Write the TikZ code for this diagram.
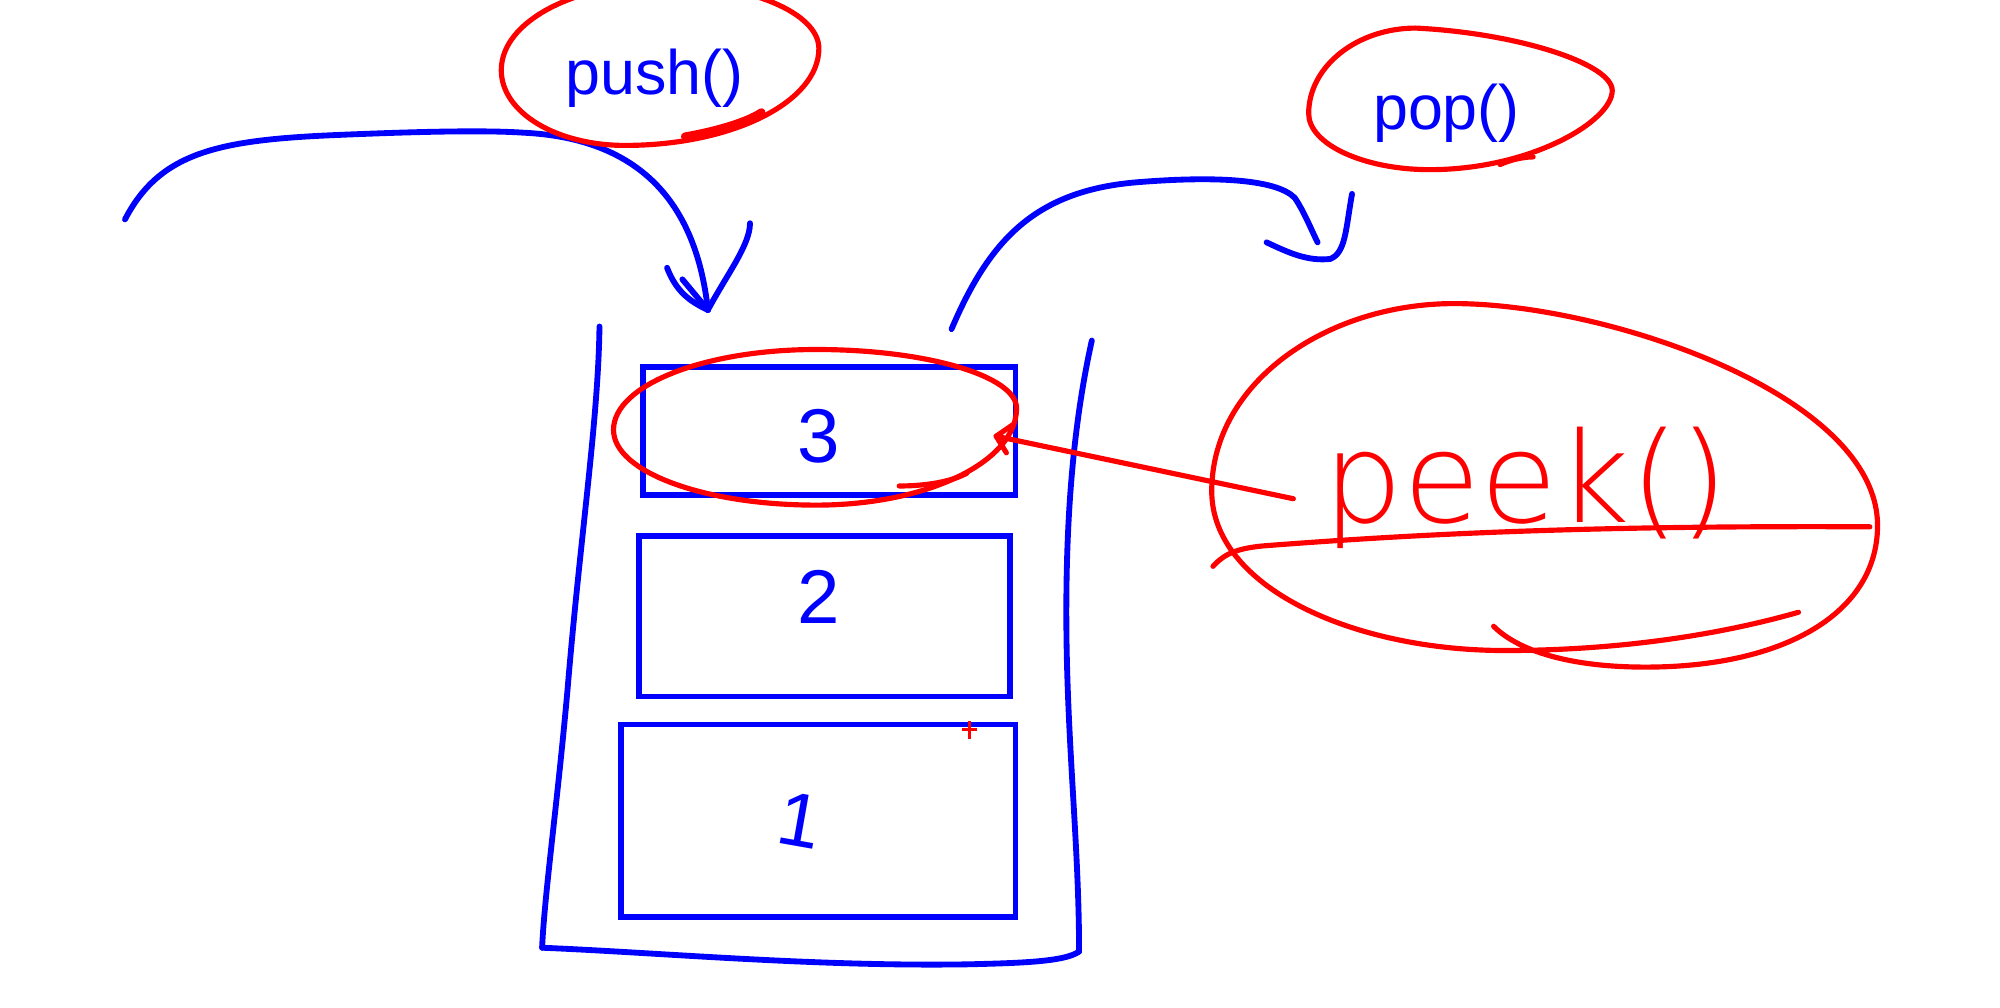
\documentclass[tikz,border=0pt]{standalone}
\usepackage{fontspec}
\setmainfont{Liberation Sans}
\newfontfamily\thinhand{DejaVu Sans ExtraLight}
\begin{document}
\begin{tikzpicture}[x=0.01cm,y=-0.01cm,
  bl/.style={draw=blue, line width=1.3pt, line cap=round, line join=round},
  rd/.style={draw=red, line width=1.15pt, line cap=round, line join=round},
  cellbox/.style={draw=blue, line width=1.3pt, inner sep=0pt},
  lbl/.style={text=blue, font=\fontsize{14}{16}\selectfont, inner sep=0pt},
  digit/.style={text=blue, font=\fontsize{17}{19}\selectfont, inner sep=0pt},
  peektext/.style={text=red, font=\thinhand\fontsize{28}{30}\selectfont, inner sep=0pt}
]
\useasboundingbox[fill=white] (0,0) rectangle (1568,790);

% labels
\node[lbl] (push) at (513,61) {push()};
\node[lbl] (pop) at (1134,89) {pop()};
\node[peektext, anchor=base west] (peek) at (1037,410) {peek()};

% stack cells
\node[cellbox, minimum width=2.92cm, minimum height=1.00cm] (b3) at (650,338) {};
\node[cellbox, minimum width=2.91cm, minimum height=1.26cm] (b2) at (646.5,483) {};
\node[cellbox, minimum width=3.09cm, minimum height=1.51cm] (b1) at (641.5,643.5) {};
\node[digit] (t3) at (642,342) {3};
\node[digit] (t2) at (642,468) {2};
\node[digit, rotate=-10] (t1) at (627,643) {1};

% stack container
\draw[bl] (470,256) .. controls (469,330) and (455,420) .. (445,540) .. controls (437,630) and (427,700) .. (425,743);
\draw[bl] (425,743) .. controls (520,747) and (640,758) .. (760,756) .. controls (800,755) and (835,754) .. (846,746);
\draw[bl] (856,267) .. controls (842,330) and (836,400) .. (836,480) .. controls (836,580) and (846,660) .. (846,746);

% push arrow
\coordinate (pushStart) at (98,172);
\coordinate (pushTip) at (555,243);
\coordinate (pushBarbA) at (523,210);
\coordinate (pushBarbA2) at (535,219);
\coordinate (pushBarbB) at (588,175);
\draw[bl] (pushStart) .. controls (125,120) and (170,110) .. (260,106) .. controls (330,103) and (380,102) .. (410,104) .. controls (495,108) and (545,152) .. (pushTip);
\draw[bl] (pushBarbA) .. controls (530,228) and (540,236) .. (pushTip);
\draw[bl] (pushBarbA2) -- (pushTip);
\draw[bl] (pushBarbB) .. controls (588,192) and (570,215) .. (pushTip);

% pop arrow
\coordinate (popStart) at (746,258);
\coordinate (popEnd) at (1033,190);
\coordinate (popHookA) at (993,190);
\coordinate (popHookB) at (1060,152);
\draw[bl] (popStart) .. controls (775,190) and (810,150) .. (890,143) .. controls (950,138) and (1000,140) .. (1015,155) .. controls (1022,165) and (1028,180) .. (popEnd);
\draw[bl] (popHookA) .. controls (1010,198) and (1025,205) .. (1043,203) .. controls (1055,198) and (1055,180) .. (popHookB);

% red loop round push()
\draw[rd] (393,55) .. controls (393,17) and (450,-13) .. (520,-13)
  .. controls (587,-13) and (642,10) .. (642,38)
  .. controls (642,80) and (574,114) .. (490,114)
  .. controls (436,114) and (393,88) .. cycle;
\draw[rd, line width=1.8pt] (537,107) .. controls (560,103) and (585,96) .. (597,88);

% red loop round pop()
\draw[rd] (1026,89) .. controls (1026,52) and (1064,22) .. (1110,22)
  .. controls (1190,26) and (1264,50) .. (1264,71)
  .. controls (1264,95) and (1200,133) .. (1121,133)
  .. controls (1069,133) and (1026,113) .. cycle;
\draw[rd] (1176,129) .. controls (1185,125) and (1195,123) .. (1202,123);

% red loop round cell 3
\draw[rd] (481,337) .. controls (481,302) and (552,274) .. (640,274)
  .. controls (727,274) and (797,295) .. (797,320)
  .. controls (797,362) and (727,396) .. (640,396)
  .. controls (552,396) and (481,370) .. cycle;
\draw[rd] (705,381) .. controls (725,381) and (745,378) .. (758,371);

% peek arrow
\coordinate (peekTip) at (781,342);
\coordinate (peekFrom) at (1014,391);
\draw[rd] (peekFrom) -- (peekTip);
\draw[rd] (794,333) -- (peekTip) -- (789,355);

% loop round peek()
\draw[rd] (1410,480) .. controls (1340,500) and (1260,510) .. (1180,510)
  .. controls (1060,510) and (950,460) .. (950,385)
  .. controls (950,300) and (1040,238) .. (1140,238)
  .. controls (1260,238) and (1472,310) .. (1472,412)
  .. controls (1472,480) and (1400,523) .. (1290,523)
  .. controls (1230,523) and (1190,510) .. (1171,491);
\draw[rd] (951,444) .. controls (960,434) and (970,430) .. (990,428) .. controls (1120,418) and (1250,412) .. (1466,413);

% cursor mark
\draw[red, line width=0.6pt] (754,572) -- (766,572) (760,565) -- (760,579);
\end{tikzpicture}
\end{document}
